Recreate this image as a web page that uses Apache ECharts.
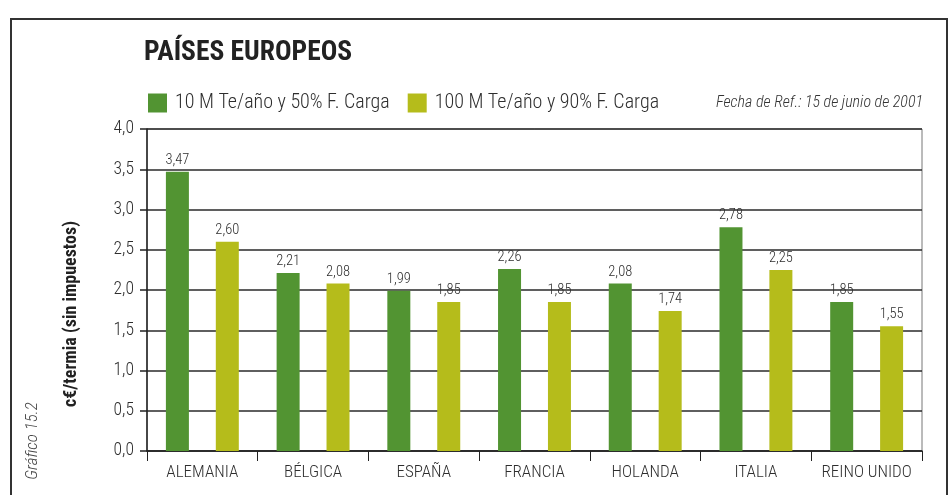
<!DOCTYPE html>
<html>
<head>
<meta charset="utf-8">
<script src="https://cdn.jsdelivr.net/npm/echarts@6/dist/echarts.min.js"></script>
<style>
  html, body { margin: 0; padding: 0; background: #fff; }
  #chart { width: 952px; height: 495px; }
</style>
</head>
<body>
<div id="chart"></div>
<script>
// Precio del gas por país (c€/termia, sin impuestos)
const categories = ['ALEMANIA', 'BÉLGICA', 'ESPAÑA', 'FRANCIA', 'HOLANDA', 'ITALIA', 'REINO UNIDO'];
const seriesNames = ['10 M Te/año y 50% F. Carga', '100 M Te/año y 90% F. Carga'];
const consumoBajo = [3.47, 2.21, 1.99, 2.26, 2.08, 2.78, 1.85];
const consumoAlto = [2.60, 2.08, 1.85, 1.85, 1.74, 2.25, 1.55];
const yTicks = { min: 0, max: 4, interval: 0.5 };

const FONT = "'Roboto Condensed', 'DejaVu Sans Condensed', sans-serif";
const TEXT = '#2e2e2e';
const fmtComma = (v, d) => v.toFixed(d).replace('.', ',');

const chart = echarts.init(document.getElementById('chart'), null, { renderer: 'canvas' });

function barSeries(name, data, color) {
  return {
    name: name,
    type: 'bar',
    data: data,
    barWidth: 23,
    barGap: '117%',
    itemStyle: { color: color },
    label: {
      show: true,
      position: 'top',
      distance: 4,
      fontFamily: FONT,
      fontSize: 14.5,
      fontWeight: 300,
      color: TEXT,
      formatter: p => fmtComma(p.value, 2)
    }
  };
}

chart.setOption({
  animation: false,
  textStyle: { fontFamily: FONT },
  title: {
    text: 'PAÍSES EUROPEOS',
    left: 144,
    top: 39,
    padding: 0,
    textStyle: { fontFamily: FONT, fontSize: 27.5, fontWeight: 'bold', color: '#222' }
  },
  legend: {
    left: 148,
    top: 93,
    padding: 0,
    itemWidth: 19,
    itemHeight: 19,
    itemGap: 18,
    icon: 'rect',
    data: seriesNames,
    textStyle: { fontFamily: FONT, fontSize: 20, fontWeight: 300, color: TEXT, padding: [0, 0, 0, 3] }
  },
  grid: {
    left: 147,
    right: 30,
    top: 129,
    bottom: 44,
    show: true,
    borderColor: '#777',
    borderWidth: 1
  },
  xAxis: {
    type: 'category',
    data: categories,
    axisLine: { lineStyle: { color: '#222', width: 1.5 } },
    axisTick: { show: true, length: 10, interval: 0, lineStyle: { color: '#222', width: 1 } },
    axisLabel: { interval: 0, margin: 13, fontFamily: FONT, fontSize: 17, fontWeight: 300, color: TEXT }
  },
  yAxis: {
    type: 'value',
    min: yTicks.min,
    max: yTicks.max,
    interval: yTicks.interval,
    axisLine: { show: true, lineStyle: { color: '#222', width: 1.5 } },
    axisTick: { show: true, length: 7, lineStyle: { color: '#222', width: 1.5 } },
    axisLabel: { margin: 13, fontFamily: FONT, fontSize: 17.5, fontWeight: 300, color: TEXT, formatter: v => fmtComma(v, 1) },
    splitLine: { show: true, lineStyle: { color: '#2a2a2a', width: 1.5 } }
  },
  series: [
    barSeries(seriesNames[0], consumoBajo, '#529432'),
    barSeries(seriesNames[1], consumoAlto, '#b5bc1b')
  ],
  graphic: [
    {
      type: 'rect',
      shape: { x: 11, y: 19, width: 936, height: 520 },
      style: { fill: 'none', stroke: '#333', lineWidth: 2 },
      silent: true
    },
    {
      type: 'text',
      x: 923,
      y: 103,
      style: {
        text: 'Fecha de Ref.: 15 de junio de 2001',
        fontFamily: FONT,
        fontSize: 16,
        fontStyle: 'italic',
        fontWeight: 300,
        fill: '#333',
        align: 'right',
        verticalAlign: 'middle'
      }
    },
    {
      type: 'text',
      x: 71,
      y: 314,
      rotation: Math.PI / 2,
      style: {
        text: 'c€/termia (sin impuestos)',
        fontFamily: FONT,
        fontSize: 18,
        fontWeight: 'bold',
        fill: '#222',
        align: 'center',
        verticalAlign: 'middle'
      }
    },
    {
      type: 'text',
      x: 33,
      y: 441,
      rotation: Math.PI / 2,
      style: {
        text: 'Gráfico 15.2',
        fontFamily: FONT,
        fontSize: 17,
        fontStyle: 'italic',
        fontWeight: 300,
        fill: '#444',
        align: 'center',
        verticalAlign: 'middle'
      }
    }
  ]
});
</script>
</body>
</html>
